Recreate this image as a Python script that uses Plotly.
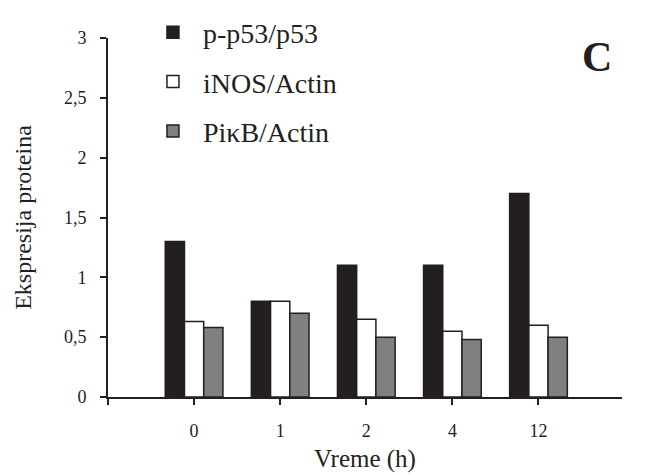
import plotly.graph_objects as go

categories = ["0", "1", "2", "4", "12"]
p53 = [1.30, 0.80, 1.10, 1.10, 1.70]
inos = [0.63, 0.80, 0.65, 0.55, 0.60]
pikb = [0.58, 0.70, 0.50, 0.48, 0.50]
series_names = ["p-p53/p53", "iNOS/Actin", "PiκB/Actin"]
y_ticks = [0, 0.5, 1, 1.5, 2, 2.5, 3]

INK = "#231F20"
FONT = "Liberation Serif, Times New Roman, serif"
xpos = list(range(len(categories)))

fig = go.Figure()
for i, (name, vals, fill) in enumerate(zip(series_names, [p53, inos, pikb], [INK, "#FFFFFF", "#808080"])):
    fig.add_trace(go.Bar(
        x=xpos, y=vals, name=name, legendgroup=f"g{i}",
        marker=dict(color=fill, line=dict(color=INK, width=1.5)),
    ))

fig.update_layout(
    width=659, height=475,
    margin=dict(l=108, r=37, t=38, b=78, autoexpand=False),
    paper_bgcolor="white", plot_bgcolor="white",
    font=dict(family=FONT, color=INK),
    separators=", ",
    barmode="group", bargap=0.33, bargroupgap=0,
    showlegend=True,
    legend=dict(
        x=0.068, y=1.085, xanchor="left", yanchor="top",
        bgcolor="rgba(0,0,0,0)", font=dict(family=FONT, size=28, color=INK),
        tracegroupgap=10, traceorder="grouped", itemwidth=50,
    ),
    xaxis=dict(
        range=[-1, 4.97], tickvals=[-1] + xpos, ticktext=[""] + categories,
        showline=True, linecolor=INK, linewidth=2, showgrid=False, zeroline=False,
        ticks="outside", ticklen=6, tickwidth=2, tickcolor=INK,
        tickfont=dict(family=FONT, size=18, color=INK),
        ticklabelstandoff=10,
        title=dict(text="Vreme (h)", font=dict(family=FONT, size=25, color=INK), standoff=10),
    ),
    yaxis=dict(
        range=[0, 3], tickvals=y_ticks,
        showline=True, linecolor=INK, linewidth=2, showgrid=False, zeroline=False,
        ticks="outside", ticklen=6, tickwidth=2, tickcolor=INK,
        tickfont=dict(family=FONT, size=18, color=INK),
        ticklabelstandoff=10,
        title=dict(text="Ekspresija proteina", font=dict(family=FONT, size=24, color=INK), standoff=26),
    ),
    annotations=[dict(
        text="<b>C</b>", x=0.951, y=0.947, xref="paper", yref="paper",
        xanchor="center", yanchor="middle",
        showarrow=False, font=dict(family=FONT, size=42, color=INK),
    )],
)

fig.write_html("out.html")
